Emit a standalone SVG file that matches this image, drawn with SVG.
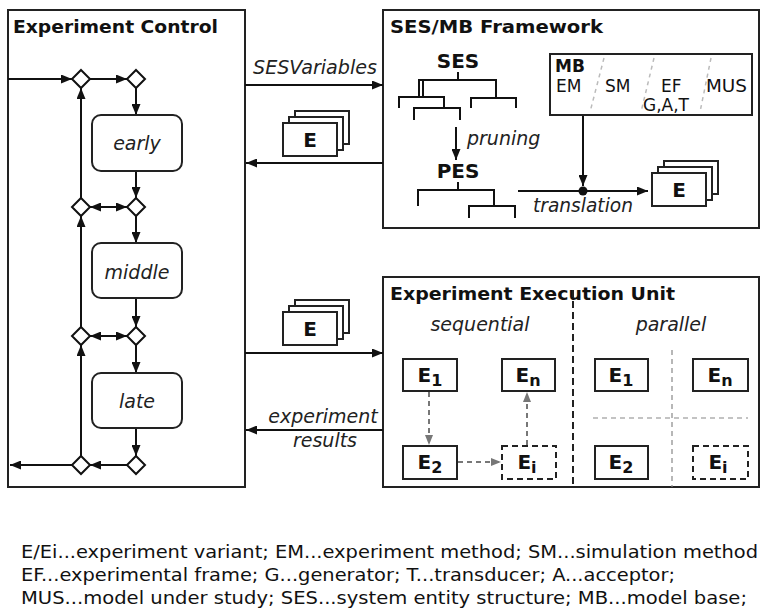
<svg xmlns="http://www.w3.org/2000/svg" width="762" height="608" viewBox="0 0 762 608">
<style>
.box{fill:#fff;stroke:#222;stroke-width:2}
.ln{fill:none;stroke:#111;stroke-width:2}
.ar{fill:none;stroke:#111;stroke-width:2;marker-end:url(#ah)}
.dar{fill:none;stroke:#111;stroke-width:2;marker-start:url(#ahs);marker-end:url(#ah)}
.gar{fill:none;stroke:#777;stroke-width:2;stroke-dasharray:5 4;marker-end:url(#gah)}
.dia{fill:#fff;stroke:#111;stroke-width:2}
.title{font-family:"DejaVu Sans",sans-serif;font-weight:bold;font-size:18px;fill:#111}
.it{font-family:"DejaVu Sans",sans-serif;font-style:italic;font-size:19px;fill:#222}
.lbl{font-family:"DejaVu Sans",sans-serif;font-weight:bold;font-size:20px;fill:#111;text-anchor:middle}
.reg{font-family:"DejaVu Sans",sans-serif;font-size:17px;fill:#111}
.card{fill:#fff;stroke:#222;stroke-width:2}
.eb{fill:#fff;stroke:#222;stroke-width:2}
.ebd{fill:#fff;stroke:#222;stroke-width:2;stroke-dasharray:6 4}
.leg{font-family:"DejaVu Sans Condensed","DejaVu Sans",sans-serif;font-size:18px;fill:#111}
</style>
<defs>
<marker id="ah" markerWidth="11" markerHeight="9" refX="11" refY="4.5" orient="auto" markerUnits="userSpaceOnUse"><path d="M0,0 L11,4.5 L0,9 z" fill="#111"/></marker>
<marker id="ahs" markerWidth="11" markerHeight="9" refX="11" refY="4.5" orient="auto-start-reverse" markerUnits="userSpaceOnUse"><path d="M0,0 L11,4.5 L0,9 z" fill="#111"/></marker>
<marker id="gah" markerWidth="10" markerHeight="8" refX="10" refY="4" orient="auto" markerUnits="userSpaceOnUse"><path d="M0,0 L10,4 L0,8 z" fill="#777"/></marker>
<g id="stack">
<rect class="card" x="12" y="-12" width="54" height="33"/>
<rect class="card" x="6" y="-6" width="54" height="33"/>
<rect class="card" x="0" y="0" width="54" height="33"/>
<text class="lbl" x="27" y="24">E</text>
</g>
</defs>
<rect width="762" height="608" fill="#fff"/>

<g id="experiment-control">
<rect class="box" x="8" y="10" width="237" height="477"/>
<text class="title" x="13" y="33" textLength="205" lengthAdjust="spacingAndGlyphs">Experiment Control</text>
</g>

<g id="ses-mb-framework">
<rect class="box" x="383" y="10" width="376" height="218"/>
<text class="title" x="390" y="33" textLength="213" lengthAdjust="spacingAndGlyphs">SES/MB Framework</text>
</g>

<g id="execution-unit">
<rect class="box" x="383" y="277" width="376" height="210"/>
<text class="title" x="390" y="300" textLength="285" lengthAdjust="spacingAndGlyphs">Experiment Execution Unit</text>
</g>

<g id="connectors">
<line class="ar" x1="8" y1="79" x2="72" y2="79"/>
<line class="ar" x1="90" y1="79" x2="127" y2="79"/>
<line class="ar" x1="136" y1="88" x2="136" y2="115"/>
<line class="ar" x1="136" y1="171" x2="136" y2="198"/>
<line class="dar" x1="90" y1="207" x2="127" y2="207"/>
<line class="ar" x1="136" y1="216" x2="136" y2="243"/>
<line class="ar" x1="136" y1="298" x2="136" y2="327"/>
<line class="dar" x1="90" y1="336" x2="127" y2="336"/>
<line class="ar" x1="136" y1="345" x2="136" y2="373"/>
<line class="ar" x1="136" y1="428" x2="136" y2="456"/>
<line class="ar" x1="127" y1="465" x2="90" y2="465"/>
<line class="ar" x1="72" y1="465" x2="10" y2="465"/>
<line class="ar" x1="81" y1="456" x2="81" y2="345"/>
<line class="ar" x1="81" y1="327" x2="81" y2="216"/>
<line class="ar" x1="81" y1="198" x2="81" y2="88"/>
<line class="ar" x1="245" y1="85" x2="383" y2="85"/>
<line class="ar" x1="383" y1="163" x2="246" y2="163"/>
<line class="ar" x1="245" y1="353" x2="383" y2="353"/>
<line class="ar" x1="383" y1="430" x2="246" y2="430"/>
<line class="ar" x1="456" y1="127" x2="456" y2="160"/>
<line class="ar" x1="583" y1="115" x2="583" y2="186"/>
<line class="ar" x1="518" y1="191" x2="648" y2="191"/>
<circle cx="583" cy="191" r="4.5" fill="#111"/>
<line class="gar" x1="429" y1="392" x2="429" y2="445"/>
<line class="gar" x1="458" y1="462" x2="501" y2="462"/>
<line class="gar" x1="527" y1="445" x2="527" y2="392"/>
</g>

<g id="diamonds">
<polygon class="dia" points="81,70 90,79 81,88 72,79"/>
<polygon class="dia" points="136,70 145,79 136,88 127,79"/>
<polygon class="dia" points="81,198 90,207 81,216 72,207"/>
<polygon class="dia" points="136,198 145,207 136,216 127,207"/>
<polygon class="dia" points="81,327 90,336 81,345 72,336"/>
<polygon class="dia" points="136,327 145,336 136,345 127,336"/>
<polygon class="dia" points="81,456 90,465 81,474 72,465"/>
<polygon class="dia" points="136,456 145,465 136,474 127,465"/>
</g>

<g id="early">
<rect class="box" x="92" y="115" width="90" height="56" rx="9"/>
<text class="it" x="137" y="150" text-anchor="middle" font-size="22">early</text>
</g>
<g id="middle">
<rect class="box" x="92" y="243" width="90" height="55" rx="9"/>
<text class="it" x="137" y="279" text-anchor="middle" font-size="22">middle</text>
</g>
<g id="late">
<rect class="box" x="92" y="373" width="90" height="55" rx="9"/>
<text class="it" x="137" y="408" text-anchor="middle" font-size="22">late</text>
</g>

<g id="labels">
<text class="it" x="253" y="74" textLength="124" lengthAdjust="spacingAndGlyphs">SESVariables</text>
<text class="it" x="467" y="145" font-size="16">pruning</text>
<text class="it" x="533" y="212" textLength="100" lengthAdjust="spacingAndGlyphs">translation</text>
<text class="it" x="323" y="423" text-anchor="middle">experiment</text>
<text class="it" x="325" y="447" text-anchor="middle">results</text>
<text class="it" x="480" y="331" text-anchor="middle">sequential</text>
<text class="it" x="671" y="331" text-anchor="middle">parallel</text>
</g>

<g id="e-stack-1"><use href="#stack" x="283" y="123"/></g>
<g id="e-stack-2"><use href="#stack" x="283" y="312"/></g>
<g id="e-stack-3"><use href="#stack" x="652" y="173"/></g>

<g id="ses-tree">
<text class="lbl" x="458" y="68">SES</text>
<path class="ln" d="M458,72 V80 M419,97 V80 H496 V98 M423,80 V97 M399,108 V97 H444 V108 M414,120 V108 H460 V120 M471,108 V98 H516 V108"/>
</g>
<g id="pes-tree">
<text class="lbl" x="458" y="178">PES</text>
<path class="ln" d="M458,182 V190 M418,206 V190 H494 V206 M469,218 V206 H515 V218"/>
</g>

<g id="mb">
<rect class="box" x="550" y="54" width="202" height="61"/>
<text class="reg" x="555" y="72" font-weight="bold">MB</text>
<text class="reg" x="556" y="92">EM</text>
<text class="reg" x="605" y="92">SM</text>
<text class="reg" x="661" y="92">EF</text>
<text class="reg" x="706" y="92" textLength="41" lengthAdjust="spacingAndGlyphs">MUS</text>
<text class="reg" x="643" y="111" font-size="12" fill="#999">G,A,T</text>
<g stroke="#bbb" stroke-width="1.5" stroke-dasharray="4 4" fill="none">
<line x1="604" y1="58" x2="590" y2="112"/>
<line x1="654" y1="58" x2="641" y2="112"/>
<line x1="711" y1="58" x2="700" y2="112"/>
</g>
</g>

<g id="divider">
<line x1="573" y1="290" x2="573" y2="487" stroke="#222" stroke-width="2" stroke-dasharray="7 4"/>
<line x1="672" y1="350" x2="672" y2="487" stroke="#888" stroke-width="1.2" stroke-dasharray="5 4"/>
<line x1="593" y1="418" x2="748" y2="418" stroke="#888" stroke-width="1.2" stroke-dasharray="5 4"/>
</g>

<g id="seq-e1"><rect class="eb" x="403" y="359" width="54" height="32"/><text class="lbl" x="430" y="382">E<tspan font-size="16" dy="4">1</tspan></text></g>
<g id="seq-en"><rect class="eb" x="502" y="359" width="53" height="32"/><text class="lbl" x="528" y="382">E<tspan font-size="16" dy="4">n</tspan></text></g>
<g id="seq-e2"><rect class="eb" x="403" y="446" width="54" height="33"/><text class="lbl" x="430" y="469">E<tspan font-size="16" dy="4">2</tspan></text></g>
<g id="seq-ei"><rect class="ebd" x="502" y="446" width="54" height="33"/><text class="lbl" x="527" y="469">E<tspan font-size="16" dy="4">i</tspan></text></g>
<g id="par-e1"><rect class="eb" x="595" y="359" width="53" height="32"/><text class="lbl" x="621" y="382">E<tspan font-size="16" dy="4">1</tspan></text></g>
<g id="par-en"><rect class="eb" x="693" y="359" width="55" height="32"/><text class="lbl" x="720" y="382">E<tspan font-size="16" dy="4">n</tspan></text></g>
<g id="par-e2"><rect class="eb" x="595" y="446" width="53" height="33"/><text class="lbl" x="621" y="469">E<tspan font-size="16" dy="4">2</tspan></text></g>
<g id="par-ei"><rect class="ebd" x="693" y="446" width="55" height="33"/><text class="lbl" x="718" y="469">E<tspan font-size="16" dy="4">i</tspan></text></g>

<g id="legend">
<text class="leg" x="21" y="558" textLength="737" lengthAdjust="spacingAndGlyphs">E/Ei...experiment variant; EM...experiment method; SM...simulation method</text>
<text class="leg" x="21" y="581" textLength="654" lengthAdjust="spacingAndGlyphs">EF...experimental frame; G...generator; T...transducer; A...acceptor;</text>
<text class="leg" x="21" y="604" textLength="726" lengthAdjust="spacingAndGlyphs">MUS...model under study; SES...system entity structure; MB...model base;</text>
</g>
</svg>
